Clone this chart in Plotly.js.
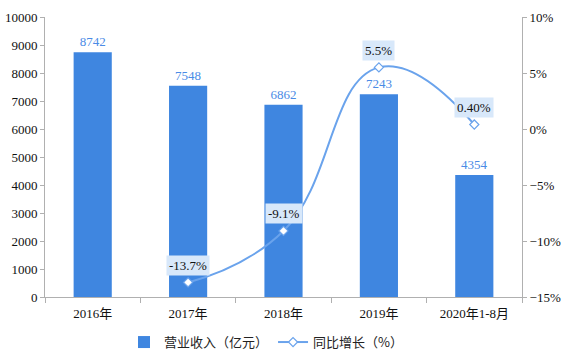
<!DOCTYPE html>
<html>
<head>
<meta charset="utf-8">
<script src="https://cdn.plot.ly/plotly-3.0.1.min.js"></script>
<style>html,body{margin:0;padding:0;background:#fff;}#chart{width:566px;height:362px;}</style>
</head>
<body>
<div id="chart"></div>
<script>
const categories = ['2016年', '2017年', '2018年', '2019年', '2020年1-8月'];
const revenue = [8742, 7548, 6862, 7243, 4354];
const growthCats = ['2017年', '2018年', '2019年', '2020年1-8月'];
const growth = [-13.7, -9.1, 5.5, 0.4];
const growthLabels = ['-13.7%', '-9.1%', '5.5%', '0.40%'];

const serif = '"Liberation Serif", "Times New Roman", "Noto Sans CJK SC", serif';
const barColor = '#3f86e0';

const traces = [
  {
    type: 'bar', x: categories, y: revenue, name: '营业收入（亿元）',
    marker: {color: barColor}, width: 0.4,
    text: revenue.map(String), textposition: 'outside',
    textfont: {family: serif, size: 13, color: '#4a8be6'},
    cliponaxis: false
  },
  {
    type: 'scatter', mode: 'lines+markers', x: growthCats, y: growth, yaxis: 'y2',
    name: '同比增长（%）',
    line: {color: '#6aa3ec', width: 2, shape: 'spline', smoothing: 1.3},
    marker: {symbol: 'diamond', size: 7, color: '#ffffff', line: {color: '#6aa3ec', width: 1.2}}
  }
];

const annotations = growthCats.map((c, i) => ({
  x: c, y: growth[i], xref: 'x', yref: 'y2', text: growthLabels[i],
  showarrow: false, yshift: 17, bgcolor: '#d8e8fa',
  font: {family: serif, size: 13, color: '#111'}, borderpad: 2
}));

const layout = {
  width: 566, height: 362,
  margin: {l: 45, r: 44, t: 17, b: 65},
  paper_bgcolor: '#fff', plot_bgcolor: '#fff',
  showlegend: true,
  legend: {orientation: 'h', x: 0.47, xanchor: 'center', xref: 'container',
           y: 0.055, yanchor: 'middle', yref: 'container',
           font: {family: '"Noto Sans CJK SC", sans-serif', size: 13, color: '#222'}},
  xaxis: {
    type: 'category', showline: true, linecolor: '#b0b0b0', linewidth: 1,
    ticks: 'outside', tickson: 'boundaries', ticklen: 5, tickcolor: '#b0b0b0',
    ticklabelstandoff: 4,
    tickfont: {family: serif, size: 13, color: '#111'}, showgrid: false, zeroline: false
  },
  yaxis: {
    range: [0, 10000], dtick: 1000, tickformat: 'd', showline: true, linecolor: '#b0b0b0',
    ticks: 'outside', ticklen: 4, tickcolor: '#b0b0b0', showgrid: false, zeroline: false,
    tickfont: {family: serif, size: 13, color: '#111'}
  },
  yaxis2: {
    overlaying: 'y', side: 'right', range: [-15, 10], dtick: 5, ticksuffix: '%',
    showline: true, linecolor: '#b0b0b0', ticks: 'outside', ticklen: 4, tickcolor: '#b0b0b0',
    showgrid: false, zeroline: false,
    tickfont: {family: serif, size: 13, color: '#111'}
  },
  annotations: annotations
};

Plotly.newPlot('chart', traces, layout, {displayModeBar: false, staticPlot: true});
</script>
</body>
</html>
